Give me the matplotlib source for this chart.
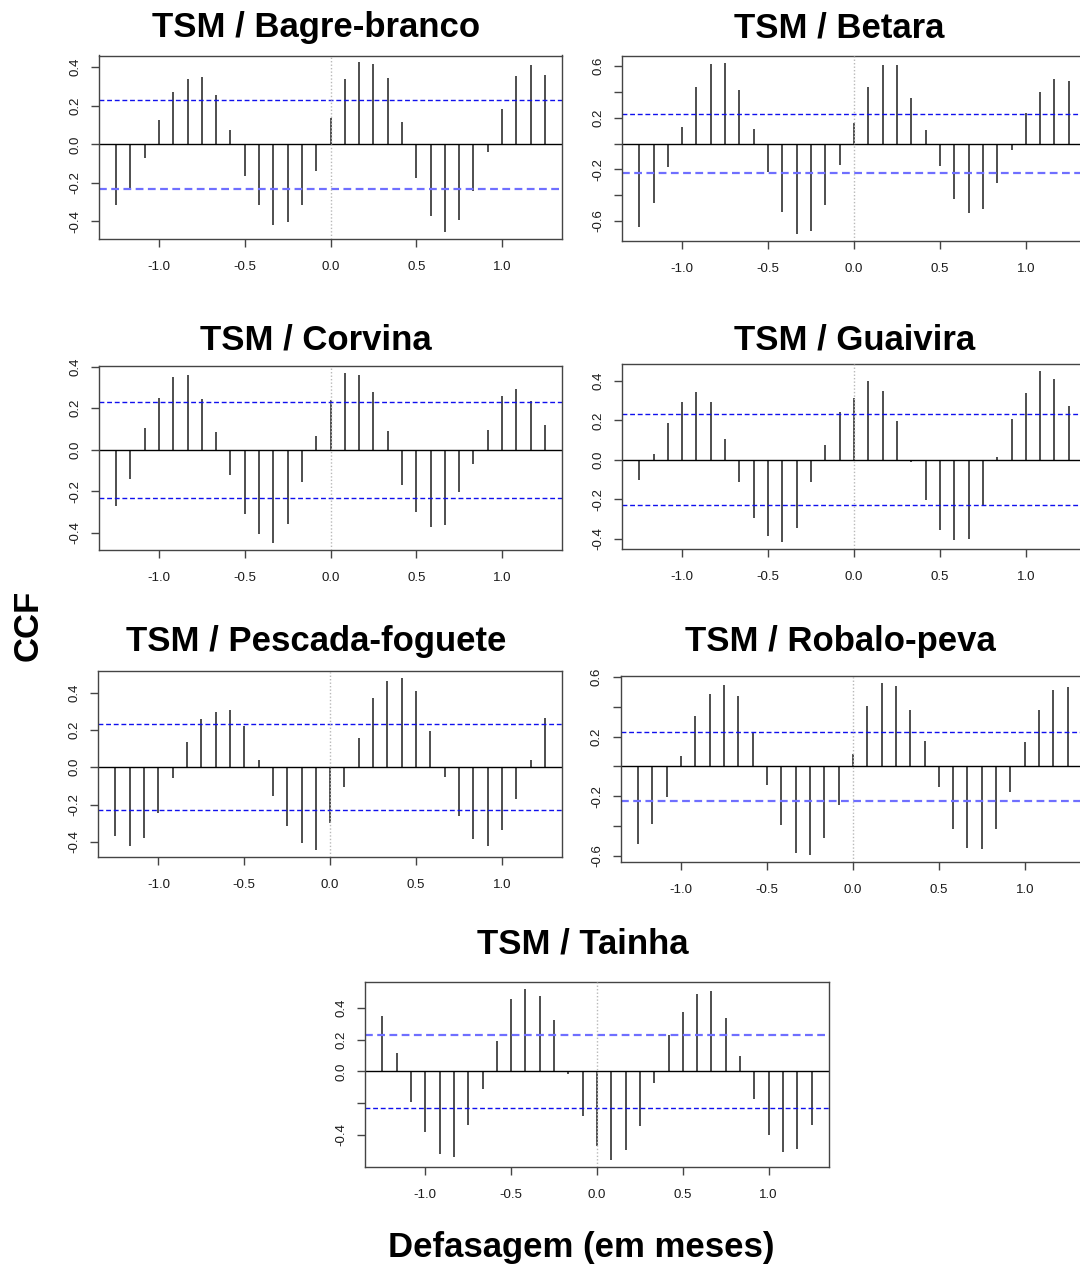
import numpy as np
import matplotlib.pyplot as plt

plt.rcParams['font.family'] = ['Liberation Sans', 'DejaVu Sans']

# defasagens de -15 a 15 meses (em anos de 12 meses)
lags = np.arange(-15, 16) / 12
clim = 0.231

bagre = [-0.315, -0.229, -0.070, 0.126, 0.272, 0.340, 0.349, 0.256, 0.072, -0.166,
         -0.315, -0.421, -0.402, -0.315, -0.138, 0.135, 0.337, 0.426, 0.417, 0.345,
         0.118, -0.174, -0.374, -0.456, -0.393, -0.243, -0.039, 0.185, 0.354, 0.414, 0.362]
betara = [-0.649, -0.459, -0.183, 0.131, 0.440, 0.618, 0.626, 0.412, 0.111, -0.224,
          -0.533, -0.703, -0.675, -0.476, -0.165, 0.157, 0.440, 0.613, 0.613, 0.355,
          0.103, -0.178, -0.430, -0.538, -0.505, -0.306, -0.054, 0.234, 0.399, 0.497, 0.482]
corvina = [-0.273, -0.143, 0.102, 0.251, 0.352, 0.360, 0.246, 0.087, -0.121, -0.308,
           -0.408, -0.451, -0.359, -0.156, 0.065, 0.240, 0.370, 0.360, 0.276, 0.090,
           -0.173, -0.300, -0.371, -0.363, -0.203, -0.071, 0.095, 0.256, 0.294, 0.232, 0.117]
guaivira = [-0.104, 0.030, 0.186, 0.293, 0.346, 0.293, 0.104, -0.112, -0.296, -0.388,
            -0.417, -0.348, -0.112, 0.074, 0.244, 0.315, 0.400, 0.350, 0.199, -0.012,
            -0.203, -0.358, -0.408, -0.402, -0.233, 0.012, 0.208, 0.341, 0.450, 0.410, 0.271]
pescada = [-0.371, -0.425, -0.380, -0.245, -0.059, 0.138, 0.257, 0.295, 0.309, 0.220,
           0.039, -0.154, -0.314, -0.405, -0.443, -0.300, -0.105, 0.157, 0.373, 0.463,
           0.480, 0.409, 0.195, -0.054, -0.264, -0.384, -0.425, -0.334, -0.171, 0.038, 0.263]
robalo = [-0.522, -0.386, -0.205, 0.069, 0.342, 0.484, 0.549, 0.471, 0.225, -0.123,
          -0.395, -0.580, -0.594, -0.478, -0.259, 0.085, 0.408, 0.560, 0.538, 0.382,
          0.174, -0.138, -0.420, -0.545, -0.556, -0.420, -0.170, 0.163, 0.377, 0.516, 0.531]
tainha = [0.348, 0.115, -0.193, -0.381, -0.521, -0.538, -0.337, -0.109, 0.191, 0.454,
          0.521, 0.477, 0.320, -0.015, -0.281, -0.469, -0.559, -0.494, -0.343, -0.071,
          0.226, 0.375, 0.484, 0.503, 0.337, 0.096, -0.172, -0.400, -0.505, -0.486, -0.337]

W, H = 1080, 1265
fig = plt.figure(figsize=(W / 100, H / 100), dpi=100)


def ret(l, t, r, b):
    return [l / W, 1 - b / H, (r - l) / W, (b - t) / H]


def plot_ccf(caixa, valores, titulo, pos_tit, yticks, ylabels, cores):
    ax = fig.add_axes(ret(*caixa))
    v = np.array(valores)
    lo, hi = min(v.min(), -clim), max(v.max(), clim)
    ext = 0.04 * (hi - lo)
    ax.set_ylim(lo - ext, hi + ext)
    ext_x = 0.04 * (lags[-1] - lags[0])
    ax.set_xlim(lags[0] - ext_x, lags[-1] + ext_x)

    ax.vlines(lags, 0, v, color='#1e1e1e', lw=1.1)
    ax.axhline(0, color='black', lw=1)
    for y, (c, lw) in zip([clim, -clim], cores):
        ax.axhline(y, ls=(0, (3.5, 2)), color=c, lw=lw)
    ax.axvline(0, color='#b8b8b8', ls=(0, (1, 1.5)), lw=1, zorder=5)

    ax.set_xticks([-1.0, -0.5, 0.0, 0.5, 1.0])
    ax.set_xticklabels(['-1.0', '-0.5', '0.0', '0.5', '1.0'])
    ax.set_yticks(yticks)
    ax.set_yticklabels(ylabels, rotation=90, va='center')
    ax.tick_params(direction='out', length=5.8, width=1, color='#444444',
                   labelsize=9.5, labelcolor='#1a1a1a')
    ax.tick_params(axis='x', pad=10)
    ax.tick_params(axis='y', pad=7)
    for s in ax.spines.values():
        s.set_color('#444444')
        s.set_linewidth(1)

    fig.text(pos_tit[0] / W, 1 - pos_tit[1] / H, titulo, ha='center', va='baseline',
             fontsize=25, fontweight='bold')
    return ax


ticks4 = [-0.4, -0.2, 0.0, 0.2, 0.4]
lab4 = ['-0.4', '-0.2', '0.0', '0.2', '0.4']
ticks6 = [-0.6, -0.4, -0.2, 0.0, 0.2, 0.4, 0.6]
lab6 = ['-0.6', '', '-0.2', '', '0.2', '', '0.6']
escuro = ('#1010ee', 1.0)
claro = ('#6f6fff', 1.6)

plot_ccf((99, 55.5, 562, 239), bagre, 'TSM / Bagre-branco', (316, 37),
         ticks4, lab4, (escuro, claro))
plot_ccf((622, 56, 1086, 241), betara, 'TSM / Betara', (839, 37),
         ticks6, lab6, (escuro, claro))
plot_ccf((99, 366, 562, 550), corvina, 'TSM / Corvina', (316, 350),
         ticks4, lab4, (escuro, escuro))
plot_ccf((622, 364.3, 1086, 548.7), guaivira, 'TSM / Guaivira', (855, 350),
         ticks4, lab4, (escuro, escuro))
plot_ccf((98.3, 671, 562, 856.7), pescada, 'TSM / Pescada-foguete', (316, 651),
         ticks4, lab4, (escuro, escuro))
plot_ccf((620.7, 676.3, 1085, 861.7), robalo, 'TSM / Robalo-peva', (840, 651),
         ticks6, lab6, (escuro, claro))
plot_ccf((365.3, 981.7, 828.7, 1167), tainha, 'TSM / Tainha', (583, 954),
         ticks4, ['-0.4', '', '0.0', '0.2', '0.4'], (claro, escuro))

fig.text(28 / W, 1 - 625 / H, 'CCF', rotation=90, ha='center', va='center',
         fontsize=25, fontweight='bold')
fig.text(581.5 / W, 1 - 1257 / H, 'Defasagem (em meses)', ha='center', va='baseline',
         fontsize=25, fontweight='bold')

fig.savefig('out.png', dpi=100, facecolor='white')
